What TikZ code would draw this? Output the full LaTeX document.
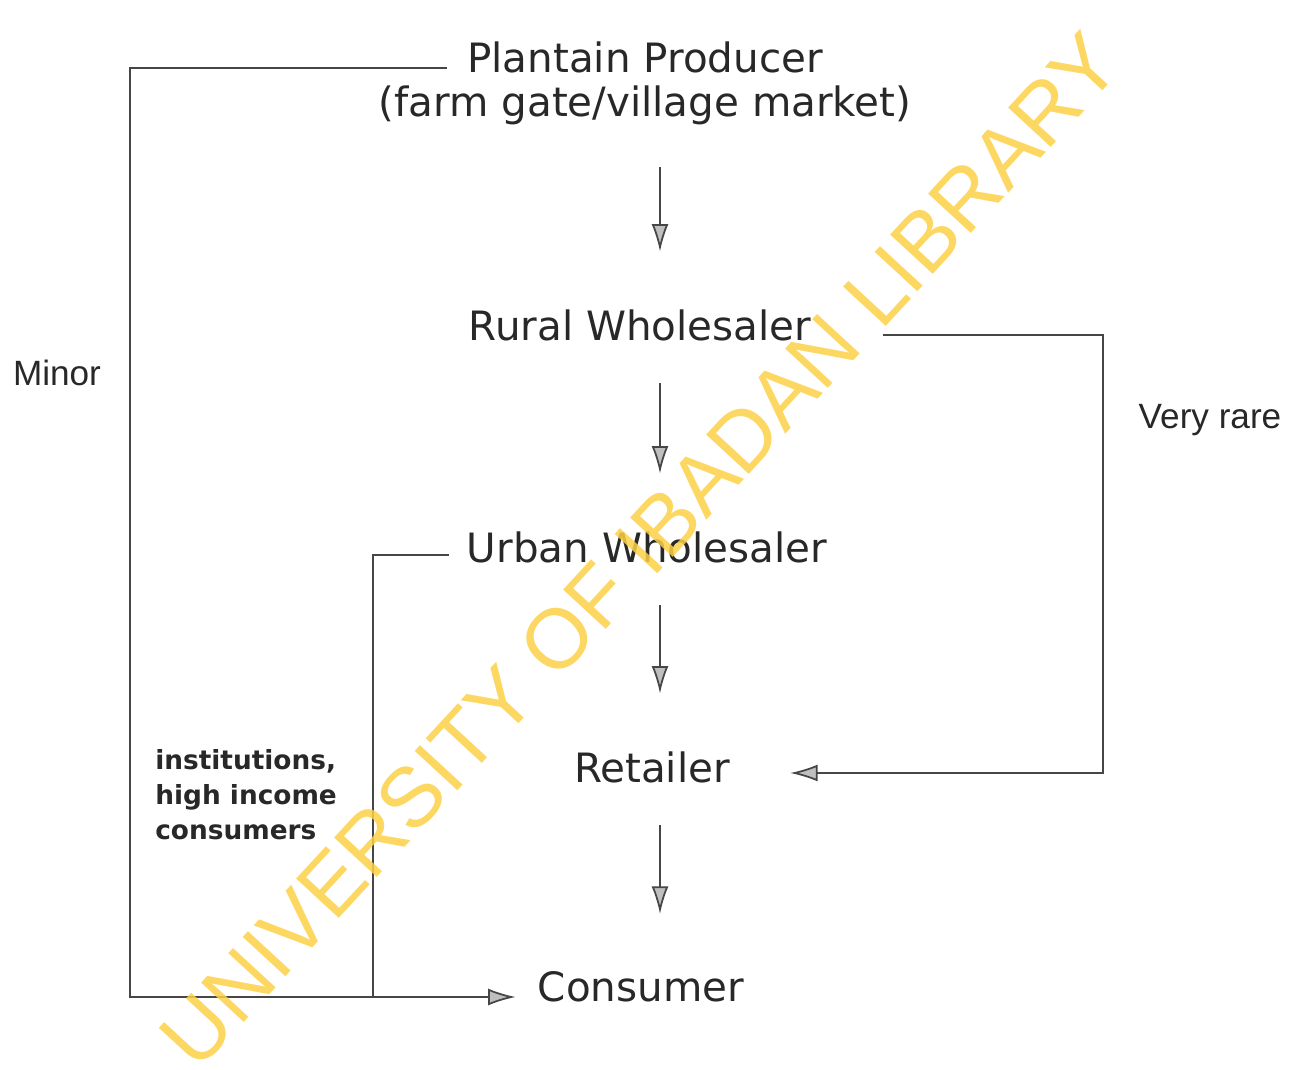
\documentclass[tikz,border=0pt]{standalone}
\usepackage{fontspec}
\setmainfont{Liberation Sans}
\newfontfamily\stagefont{DejaVu Sans}
\usetikzlibrary{arrows.meta, positioning, calc}
\usepackage{xcolor}
\definecolor{inkgray}{RGB}{40,40,40}
\definecolor{linegray}{RGB}{70,70,70}
\definecolor{wmyellow}{RGB}{252,208,70}

\begin{document}
\begin{tikzpicture}[
  stage/.style={inner sep=0pt, text=inkgray, font=\stagefont\fontsize{23}{27}\selectfont, align=center},
  side/.style={inner sep=0pt, text=inkgray, font=\fontsize{20}{24}\selectfont, align=left},
  link/.style={draw=linegray, line width=1pt},
  flow/.style={link, -{Latex[length=5.5mm, width=3.4mm, fill=gray!50, color=linegray]}},
  stepflow/.style={flow, shorten <=0.85cm, shorten >=1.15cm}]
  \useasboundingbox (0,0) rectangle (26.18,-21.4);

  % Stages of the chain
  \node[stage] (prod) at (12.9,-1.14) {Plantain Producer};
  \node[stage] (gate) at (12.9,-2.1) {(farm gate/village market)};
  \node[stage] (rural) at (12.8,-6.5) {Rural Wholesaler};
  \node[stage] (urban) at (12.94,-10.94) {Urban Wholesaler};
  \node[stage] (retail) at (13.04,-15.34) {Retailer};
  \node[stage] (cons) at (12.82,-19.74) {Consumer};

  \coordinate (ax) at (13.2,0);
  \coordinate (lft) at (2.6,-19.94);
  \coordinate (jn) at (7.46,-19.94);
  \coordinate (rgt) at (22.06,0);

  % Main channel
  \draw[stepflow] (gate.south -| ax) -- (rural.north -| ax);
  \draw[stepflow] (rural.south -| ax) -- (urban.north -| ax);
  \draw[stepflow] (urban.south -| ax) -- (retail.north -| ax);
  \draw[stepflow] (retail.south -| ax) -- (cons.north -| ax);

  % Side channels
  \draw[flow, shorten <=4mm, shorten >=4.4mm] ([yshift=-2.2mm]prod.west) -| (lft) -- (lft -| cons.west);
  \draw[link, shorten <=3.6mm] ([yshift=-1.6mm]urban.west) -| (jn);
  \draw[flow, shorten <=1.42cm, shorten >=1.2cm] ([yshift=-2mm]rural.east) -| ([yshift=-1.2mm]retail.east -| rgt) -- ([yshift=-1.2mm]retail.east);

  % Labels
  \node[side] (minor) at (1.14,-7.46) {Minor};
  \node[side] (rare) at (24.2,-8.4) {Very rare};
  \node[side, anchor=west, font=\stagefont\bfseries\fontsize{15}{20}\selectfont] (inst) at (3.1,-15.9) {institutions,\\high income\\consumers};

  % Watermark
  \node[rotate=47.3, text=wmyellow, opacity=0.85, font=\fontsize{48}{48}\selectfont] (wm) at (12.8,-11) {UNIVERSITY OF IBADAN LIBRARY};
\end{tikzpicture}
\end{document}
